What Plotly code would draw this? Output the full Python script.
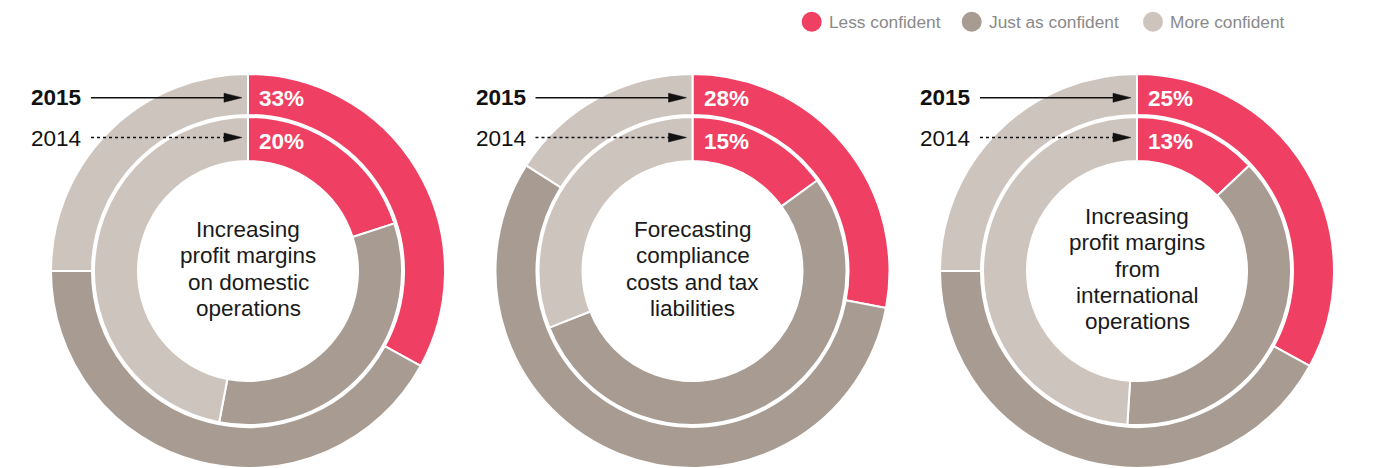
import plotly.graph_objects as go

# ---------------- data ----------------
categories = ["Less confident", "Just as confident", "More confident"]
titles = [
    ["Increasing", "profit margins", "on domestic", "operations"],
    ["Forecasting", "compliance", "costs and tax", "liabilities"],
    ["Increasing", "profit margins", "from", "international", "operations"],
]
values_2015 = [[33, 42, 25], [28, 56, 16], [33, 42, 25]]
values_2014 = [[20, 33, 47], [15, 54, 31], [13, 38, 49]]
labels_2015 = ["33%", "28%", "25%"]
labels_2014 = ["20%", "15%", "13%"]
years = ["2015", "2014"]

colors = ["#EF4063", "#A89C92", "#CEC4BE"]

# ---------------- layout helpers ----------------
W, H = 1373, 468
def px(x):
    return x / W
def py(y):
    return 1 - y / H

centers_x = [248, 692.5, 1137]
cy = 271
R_OUT, R_OUT_IN = 197, 156
R_IN, R_IN_IN = 154, 110
FONT = "Liberation Sans, Arial, Helvetica, sans-serif"
LINE_GAP = 26.2

fig = go.Figure()
shapes = []
annotations = []

for i, cx in enumerate(centers_x):
    fig.add_trace(go.Pie(
        values=values_2015[i], labels=categories,
        domain=dict(x=[px(cx - R_OUT), px(cx + R_OUT)], y=[py(cy + R_OUT), py(cy - R_OUT)]),
        hole=R_OUT_IN / R_OUT, sort=False, direction="clockwise", rotation=0,
        marker=dict(colors=colors, line=dict(color="white", width=2)),
        textinfo="none", showlegend=False, name="2015",
    ))
    fig.add_trace(go.Pie(
        values=values_2014[i], labels=categories,
        domain=dict(x=[px(cx - R_IN), px(cx + R_IN)], y=[py(cy + R_IN), py(cy - R_IN)]),
        hole=R_IN_IN / R_IN, sort=False, direction="clockwise", rotation=0,
        marker=dict(colors=colors, line=dict(color="white", width=2)),
        textinfo="none", showlegend=False, name="2014",
    ))

    # centre title, one line per annotation for exact line spacing
    n = len(titles[i])
    for k, line in enumerate(titles[i]):
        yy = 269 + (k - (n - 1) / 2) * LINE_GAP
        annotations.append(dict(
            x=px(cx), y=py(yy), xref="paper", yref="paper", text=line,
            showarrow=False, xanchor="center", yanchor="middle", align="center",
            font=dict(family=FONT, size=22.5, color="#1a1a1a"),
        ))
    # percentage labels
    for lab, yy in ((labels_2015[i], 98.3), (labels_2014[i], 141)):
        annotations.append(dict(
            x=px(cx + 9), y=py(yy), xref="paper", yref="paper", text="<b>%s</b>" % lab,
            showarrow=False, xanchor="left", yanchor="middle",
            font=dict(family=FONT, size=22.5, color="white"),
        ))
    # year labels
    annotations.append(dict(
        x=px(cx - 165), y=py(97), xref="paper", yref="paper", text="<b>%s</b>" % years[0],
        showarrow=False, xanchor="right", yanchor="middle",
        font=dict(family=FONT, size=22.5, color="#111111"),
    ))
    annotations.append(dict(
        x=px(cx - 165), y=py(138.5), xref="paper", yref="paper", text=years[1],
        showarrow=False, xanchor="right", yanchor="middle",
        font=dict(family=FONT, size=22.5, color="#111111"),
    ))
    # arrows
    for yy, dash in ((97.7, "solid"), (137.5, "dot")):
        shapes.append(dict(
            type="line", xref="paper", yref="paper",
            x0=px(cx - 157), x1=px(cx - 22), y0=py(yy), y1=py(yy),
            line=dict(color="#111111", width=1.5, dash=dash),
        ))
        path = "M %f,%f L %f,%f L %f,%f Z" % (
            px(cx - 24), py(yy - 4.5), px(cx - 6), py(yy), px(cx - 24), py(yy + 4.5))
        shapes.append(dict(
            type="path", xref="paper", yref="paper", path=path,
            fillcolor="#111111", line=dict(color="#111111", width=0.5),
        ))

# legend (circles + text)
legend_cx = [811.7, 971.7, 1153]
for cat, col, lx in zip(categories, colors, legend_cx):
    shapes.append(dict(
        type="circle", xref="paper", yref="paper",
        x0=px(lx - 10), x1=px(lx + 10), y0=py(21.7 + 10), y1=py(21.7 - 10),
        fillcolor=col, line=dict(width=0),
    ))
    annotations.append(dict(
        x=px(lx + 15), y=py(21.7), xref="paper", yref="paper", text=cat,
        showarrow=False, xanchor="left", yanchor="middle",
        font=dict(family=FONT, size=17.3, color="#8a8a8a"),
    ))

fig.update_layout(
    width=W, height=H, autosize=False,
    margin=dict(l=0, r=0, t=0, b=0),
    paper_bgcolor="white", plot_bgcolor="white",
    shapes=shapes, annotations=annotations, showlegend=False,
)

fig.write_html("out.html")
